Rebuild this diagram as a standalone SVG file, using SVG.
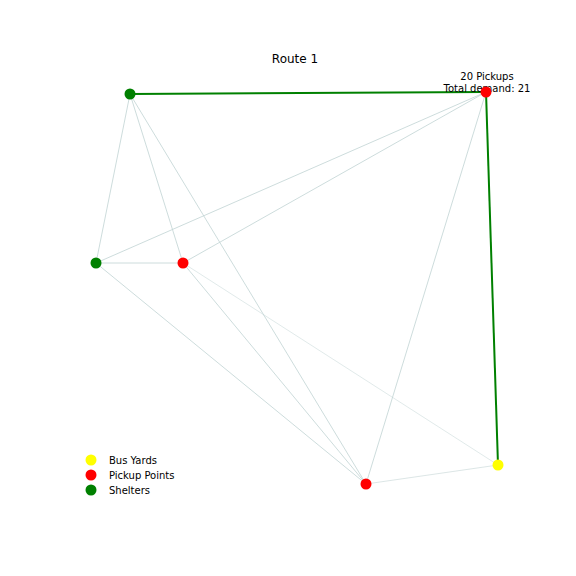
<svg xmlns="http://www.w3.org/2000/svg" width="576" height="576" viewBox="0 0 576 576">
<style>
text{font-family:"DejaVu Sans",sans-serif;fill:#000}
.e{stroke:#c4d6d6;stroke-width:1;fill:none;opacity:0.85}
.r{stroke:#008000;stroke-width:2;fill:none}
</style>
<rect width="576" height="576" fill="#fff"/>
<g id="connectors">
<line class="e" x1="130" y1="94" x2="96" y2="263"/>
<line class="e" x1="130" y1="94" x2="183" y2="263"/>
<line class="e" x1="130" y1="94" x2="366" y2="484"/>
<line class="e" x1="486" y1="92" x2="96" y2="263"/>
<line class="e" x1="486" y1="92" x2="183" y2="263"/>
<line class="e" x1="486" y1="92" x2="366" y2="484"/>
<line class="e" x1="96" y1="263" x2="183" y2="263"/>
<line class="e" x1="96" y1="263" x2="366" y2="484"/>
<line class="e" x1="183" y1="263" x2="366" y2="484"/>
<line class="e" x1="183" y1="263" x2="498" y2="465" style="opacity:0.5"/>
<line class="e" x1="366" y1="484" x2="498" y2="465" style="opacity:0.6"/>
<line class="r" x1="130" y1="94" x2="486" y2="92"/>
<line class="r" x1="486" y1="92" x2="498" y2="465"/>
</g>
<g id="labels">
<text x="295" y="63" font-size="12" text-anchor="middle">Route 1</text>
<text x="487" y="80" font-size="10" text-anchor="middle">20 Pickups</text>
<text x="487" y="92" font-size="10" text-anchor="middle">Total demand: 21</text>
</g>
<g id="node-shelter-1"><circle cx="130" cy="94" r="5.5" fill="#008000"/></g>
<g id="node-shelter-2"><circle cx="96" cy="263" r="5.5" fill="#008000"/></g>
<g id="node-pickup-1"><circle cx="486" cy="92" r="5.5" fill="#ff0000"/></g>
<g id="node-pickup-2"><circle cx="183" cy="263" r="5.5" fill="#ff0000"/></g>
<g id="node-pickup-3"><circle cx="366" cy="484" r="5.5" fill="#ff0000"/></g>
<g id="node-busyard-1"><circle cx="498" cy="465" r="5.5" fill="#ffff00"/></g>
<g id="legend">
<circle cx="91" cy="460" r="5.5" fill="#ffff00"/>
<circle cx="91" cy="475" r="5.5" fill="#ff0000"/>
<circle cx="91" cy="490" r="5.5" fill="#008000"/>
<text x="109" y="463.5" font-size="10">Bus Yards</text>
<text x="109" y="478.5" font-size="10">Pickup Points</text>
<text x="109" y="493.5" font-size="10">Shelters</text>
</g>
</svg>
